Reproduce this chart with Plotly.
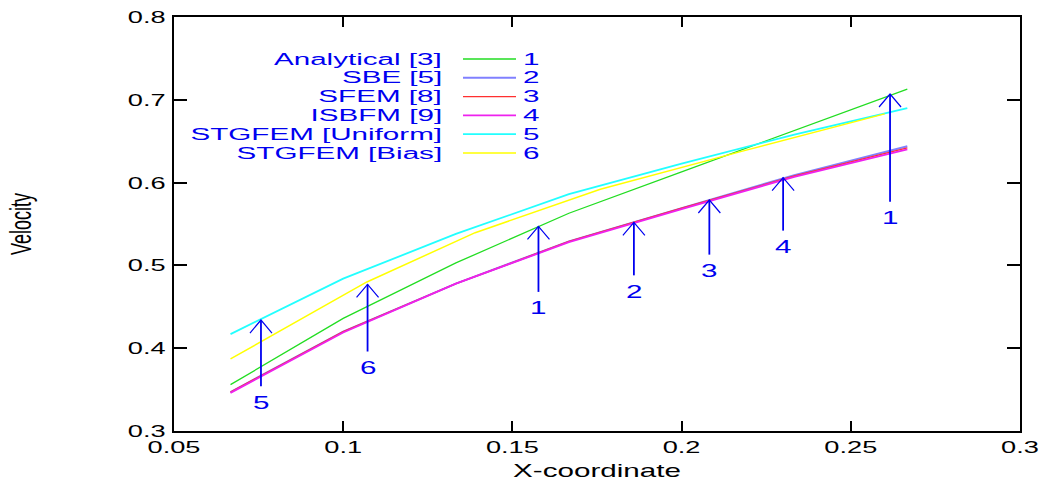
import plotly.graph_objects as go

# ---- data -------------------------------------------------------------
x_nodes = [0.0667, 0.1, 0.1333, 0.1667, 0.2, 0.2333, 0.2667]
analytical = [0.356, 0.436, 0.503, 0.563, 0.613, 0.663, 0.713]
sbe = [0.347, 0.420, 0.478, 0.529, 0.569, 0.609, 0.644]
sfem = [0.347, 0.420, 0.478, 0.529, 0.569, 0.608, 0.642]
isbfm = [0.346, 0.419, 0.478, 0.528, 0.568, 0.607, 0.640]
stgfem_uniform = [0.417, 0.484, 0.538, 0.586, 0.623, 0.658, 0.690]

x_bias = [0.0667, 0.107, 0.139, 0.176, 0.218, 0.26]
stgfem_bias = [0.387, 0.480, 0.5395, 0.592, 0.638, 0.683]

series_names = ["Analytical [3]", "SBE [5]", "SFEM [8]", "ISBFM [9]",
                "STGFEM [Uniform]", "STGFEM [Bias]"]
series_ids = ["1", "2", "3", "4", "5", "6"]

# pointer arrows: label, x position, head value, tail value
arrow_labels = ["5", "6", "1", "2", "3", "4", "1"]
arrow_x = [0.0757, 0.1072, 0.1577, 0.1859, 0.2082, 0.2300, 0.2616]
arrow_tip = [0.434, 0.477, 0.547, 0.552, 0.579, 0.606, 0.707]
arrow_tail = [0.354, 0.396, 0.468, 0.488, 0.513, 0.542, 0.577]

x_ticks = [0.05, 0.1, 0.15, 0.2, 0.25, 0.3]
x_tick_text = ["0.05", "0.1", "0.15", "0.2", "0.25", "0.3"]
y_ticks = [0.3, 0.4, 0.5, 0.6, 0.7, 0.8]
y_tick_text = ["0.3", "0.4", "0.5", "0.6", "0.7", "0.8"]

# ---- layout constants ---------------------------------------------------
W, H = 1044, 482
ML, MR, MT, MB = 174, 24, 17, 51
X_RANGE = [0.05, 0.3]
Y_RANGE = [0.3, 0.8]
PLOT_W = W - ML - MR
PLOT_H = H - MT - MB
X_PER_PX = (X_RANGE[1] - X_RANGE[0]) / PLOT_W
Y_PER_PX = (Y_RANGE[1] - Y_RANGE[0]) / PLOT_H

FONT = "Liberation Sans, Arial, Helvetica, sans-serif"
KEY_FONT_SIZE = 16
BLUE = "#0000f0"
colors = ["#22dd22", "#8080ff", "#ff3030", "#ee22ee", "#22ffff", "#ffff00"]
widths = [1.3, 2.0, 1.4, 1.8, 1.8, 1.5]

fig = go.Figure()

xs = [x_nodes, x_nodes, x_nodes, x_nodes, x_nodes, x_bias]
ys = [analytical, sbe, sfem, isbfm, stgfem_uniform, stgfem_bias]
for name, xv, yv, c, w in zip(series_names, xs, ys, colors, widths):
    fig.add_trace(go.Scatter(x=xv, y=yv, mode="lines", name=name,
                             line=dict(color=c, width=w), showlegend=False,
                             hoverinfo="skip"))

# arrow shafts and open heads
head_dx = 11 * X_PER_PX
head_dy = 13 * Y_PER_PX
shaft_x, shaft_y, head_x, head_y = [], [], [], []
for ax_, tip, tail in zip(arrow_x, arrow_tip, arrow_tail):
    shaft_x += [ax_, ax_, None]
    shaft_y += [tail, tip, None]
    head_x += [ax_ - head_dx, ax_, ax_ + head_dx, None]
    head_y += [tip - head_dy, tip, tip - head_dy, None]
fig.add_trace(go.Scatter(x=shaft_x, y=shaft_y, mode="lines",
                         line=dict(color=BLUE, width=1.8),
                         showlegend=False, hoverinfo="skip"))
fig.add_trace(go.Scatter(x=head_x, y=head_y, mode="lines",
                         line=dict(color=BLUE, width=1.2),
                         showlegend=False, hoverinfo="skip"))

annotations = []
for lab, ax_, tail in zip(arrow_labels, arrow_x, arrow_tail):
    annotations.append(dict(x=ax_, y=tail, xref="x", yref="y", text=lab,
                            showarrow=False, yanchor="middle", xanchor="center",
                            yshift=-16, font=dict(family=FONT, size=18.5, color=BLUE)))

# key block: name, sample line, id
key_top_px = 59
key_gap_px = 18.8
name_right_px = 443
line_px = (463, 516)
id_left_px = 522
shapes = []
for i, (name, sid, c, w) in enumerate(zip(series_names, series_ids, colors, widths)):
    py = key_top_px + i * key_gap_px
    yp = (H - MB - py) / PLOT_H
    annotations.append(dict(x=(name_right_px - ML) / PLOT_W, y=yp, xref="paper", yref="paper",
                            text=name, showarrow=False, xanchor="right", align="right",
                            yanchor="middle", borderpad=0,
                            font=dict(family=FONT, size=KEY_FONT_SIZE, color=BLUE)))
    annotations.append(dict(x=(id_left_px - ML) / PLOT_W, y=yp, xref="paper", yref="paper",
                            text=sid, showarrow=False, xanchor="left", align="left",
                            yanchor="middle", borderpad=0,
                            font=dict(family=FONT, size=KEY_FONT_SIZE, color=BLUE)))
    shapes.append(dict(type="line", xref="paper", yref="paper",
                       x0=(line_px[0] - ML) / PLOT_W, x1=(line_px[1] - ML) / PLOT_W,
                       y0=yp, y1=yp, line=dict(color=c, width=w)))

axis_common = dict(showline=True, linecolor="black", linewidth=2, mirror="ticks",
                   ticks="inside", tickcolor="black", tickwidth=1.5,
                   showgrid=False, zeroline=False, automargin=False,
                   tickfont=dict(family=FONT, size=17, color="black"))

fig.update_layout(
    width=W, height=H,
    margin=dict(l=ML, r=MR, t=MT, b=MB, pad=0, autoexpand=False),
    paper_bgcolor="white", plot_bgcolor="white",
    showlegend=False,
    xaxis=dict(range=X_RANGE, tickvals=x_ticks, ticktext=x_tick_text, ticklen=10,
               title=dict(text="X-coordinate", standoff=8,
                          font=dict(family=FONT, size=18.5, color="black")),
               **axis_common),
    yaxis=dict(range=Y_RANGE, tickvals=y_ticks, ticktext=y_tick_text, ticklen=13,
               ticklabelstandoff=3,
               title=dict(text="Velocity", standoff=109,
                          font=dict(family=FONT, size=18, color="black")),
               **axis_common),
    annotations=annotations,
    shapes=shapes,
)

# Widen the lettering horizontally (wide Helvetica look), pivoting on each anchor.
# The key block uses a smaller size, so it gets a proportionally wider stretch.
stretch_js = """
var gd = document.getElementById('{plot_id}');
var BASE = 1.6, KEY_SIZE = %d, KEY_S = %.4f;
gd.querySelectorAll('text').forEach(function(t){
  if (!t.textContent || !t.textContent.trim()) return;
  var fs = parseFloat(t.style.fontSize) || 0;
  var S = Math.abs(fs - KEY_SIZE) < 0.01 ? KEY_S : BASE;
  var bb = t.getBBox();
  var tr = t.getAttribute('transform') || '';
  if (/rotate\\(-90/.test(tr)) {
    var cy = bb.y + bb.height / 2;
    t.setAttribute('transform', tr + ' translate(0,' + cy + ') scale(1,' + S + ') translate(0,' + (-cy) + ')');
  } else {
    var a = t.getAttribute('text-anchor') || 'start';
    var px = a === 'end' ? bb.x + bb.width : (a === 'middle' ? bb.x + bb.width / 2 : bb.x);
    t.setAttribute('transform', tr + ' translate(' + px + ',0) scale(' + S + ',1) translate(' + (-px) + ',0)');
  }
});
""" % (KEY_FONT_SIZE, 1.6 * 18.5 / KEY_FONT_SIZE)

fig.write_html("out.html", config=dict(displayModeBar=False, responsive=False),
               post_script=stretch_js)
